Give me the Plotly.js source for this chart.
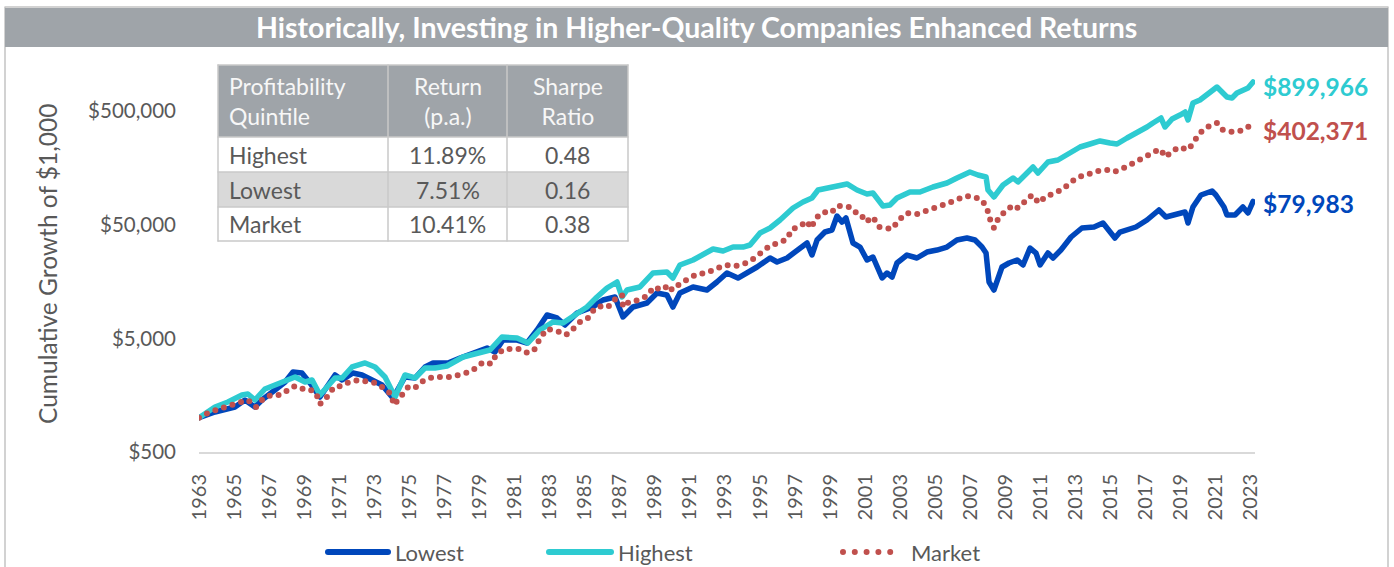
<!DOCTYPE html>
<html>
<head>
<meta charset="utf-8">
<script src="https://cdn.plot.ly/plotly-3.0.1.min.js"></script>
<style>
  html, body { margin: 0; padding: 0; background: #ffffff; }
  #chart { width: 1394px; height: 567px; }
  .scatterlayer .js-line, .shapelayer path { stroke-linecap: round; stroke-linejoin: round; }
</style>
</head>
<body>
<div id="chart"></div>
<script>
// ---------------- DATA ----------------
const chartTitle = 'Historically, Investing in Higher-Quality Companies Enhanced Returns';
const yAxisTitle = 'Cumulative Growth of $1,000';
const seriesNames = ['Lowest', 'Highest', 'Market'];

const tickYears = [1963,1965,1967,1969,1971,1973,1975,1977,1979,1981,1983,1985,1987,1989,1991,1993,1995,1997,1999,2001,2003,2005,2007,2009,2011,2013,2015,2017,2019,2021,2023];
const yTickValues = [500, 5000, 50000, 500000];
const yTickLabels = ['$500', '$5,000', '$50,000', '$500,000'];

const lowestYears = [1963.00,1963.91,1965.05,1965.62,1966.19,1966.59,1967.33,1967.91,1968.36,1968.87,1969.33,1969.90,1970.76,1971.16,1971.78,1972.30,1972.87,1973.44,1974.06,1974.75,1975.32,1975.89,1976.35,1977.20,1977.89,1978.63,1979.43,1979.88,1980.34,1981.14,1981.71,1982.28,1982.85,1983.42,1983.87,1984.56,1985.13,1985.47,1985.76,1986.04,1986.73,1987.18,1987.75,1988.55,1989.12,1989.69,1990.03,1990.43,1991.18,1991.97,1992.54,1993.11,1993.74,1994.26,1994.83,1995.57,1995.97,1996.54,1997.11,1997.68,1997.96,1998.25,1998.70,1999.10,1999.39,1999.67,1999.90,2000.30,2000.70,2001.10,2001.44,2001.96,2002.24,2002.53,2002.81,2003.38,2003.95,2004.52,2005.09,2005.66,2006.23,2006.80,2007.26,2007.66,2007.89,2008.06,2008.34,2008.80,2009.20,2009.66,2010.00,2010.40,2010.74,2010.97,2011.42,2011.71,2012.16,2012.74,2013.36,2014.05,2014.56,2014.90,2015.24,2015.53,2016.44,2017.07,2017.75,2018.15,2018.84,2019.24,2019.41,2019.69,2020.15,2020.78,2021.00,2021.46,2021.63,2022.09,2022.54,2022.83,2023.12];
const lowestValues = [1000,1124,1244,1433,1244,1433,1756,2064,2528,2477,2023,1523,2379,2150,2477,2379,2150,1943,1493,2285,2239,2798,3034,3034,3357,3714,4111,3790,4834,4834,4549,5920,8020,7550,6550,8350,8880,9430,10230,10870,11550,7700,9430,10230,12530,12030,9430,12530,14150,13310,15650,18780,16970,18780,21210,25450,23470,25450,29920,34480,27040,36640,43090,44870,59590,52770,57230,34480,31790,24450,25970,16970,18780,17320,23000,27040,25450,28730,29920,31790,36640,38160,36640,31790,28150,15650,13310,21210,23000,24450,22090,31150,28150,22090,28150,25450,29920,38940,46730,47690,51710,44870,38160,43090,47690,54950,67290,58400,63330,64620,51710,71510,91200,98880,91200,71510,60810,60810,71510,63330,79983];

const highestYears = [1963.00,1963.91,1964.65,1965.45,1965.79,1966.19,1966.76,1967.33,1967.91,1968.48,1969.05,1969.45,1969.90,1970.76,1971.16,1971.73,1972.47,1973.04,1973.61,1974.18,1974.75,1975.32,1975.89,1976.46,1977.14,1978.06,1979.60,1980.28,1981.14,1981.76,1982.45,1983.19,1983.76,1984.56,1985.13,1985.70,1986.27,1986.84,1987.13,1987.41,1988.15,1988.89,1989.69,1990.03,1990.43,1991.18,1991.97,1992.32,1992.89,1993.46,1994.03,1994.43,1995.00,1995.57,1996.14,1996.88,1997.45,1997.96,1998.31,1998.82,1999.39,1999.96,2000.53,2001.10,2001.44,2002.01,2002.41,2002.81,2003.55,2004.12,2004.86,2005.66,2006.23,2006.97,2007.43,2007.89,2008.00,2008.34,2008.86,2009.43,2009.71,2010.22,2010.57,2010.85,2011.42,2011.99,2012.68,2013.25,2013.82,2014.39,2014.96,2015.36,2015.93,2016.50,2017.07,2017.41,2017.87,2018.10,2018.50,2018.95,2019.24,2019.41,2019.69,2020.09,2020.49,2021.06,2021.63,2021.92,2022.20,2022.54,2022.83,2023.12];
const highestValues = [1000,1244,1376,1586,1619,1433,1792,1943,2150,2285,2064,2150,1586,2239,2239,2798,3034,2798,2285,1523,2379,2239,2742,2742,2855,3425,3948,5137,5034,4549,5920,6960,6820,8350,9430,11550,13860,15650,11550,13310,14150,18780,19170,16970,22090,24450,28150,30530,29320,31790,31790,33110,42230,46730,54950,70080,79130,85820,100900,105100,111700,114000,100900,93060,94960,72980,74470,85820,96900,96900,107200,116300,128700,145300,136800,131300,100900,87580,111700,128700,118700,145300,160800,142400,177900,185300,213500,241100,256200,272300,261500,256200,289300,320200,361500,392000,433800,361500,425100,460900,489800,416600,587900,624800,691300,812900,663800,650500,719900,764900,796600,899966];

const marketYears = [1963.00,1963.51,1964.14,1964.71,1965.22,1965.79,1966.25,1966.65,1967.11,1967.62,1968.02,1968.48,1968.93,1969.27,1969.67,1969.90,1970.30,1970.70,1971.16,1971.56,1972.13,1972.64,1973.04,1973.44,1973.95,1974.12,1974.29,1974.58,1974.98,1975.38,1975.78,1976.35,1976.86,1977.37,1978.00,1978.57,1979.03,1979.43,1979.65,1979.98,1980.45,1980.97,1981.31,1981.76,1982.16,1982.45,1982.85,1983.42,1983.93,1984.33,1984.79,1985.19,1985.59,1985.99,1986.33,1986.67,1987.13,1987.18,1987.53,1988.10,1988.55,1988.95,1989.41,1989.81,1989.98,1990.49,1990.95,1991.40,1991.92,1992.43,1993.00,1993.57,1994.08,1994.60,1995.11,1995.62,1996.08,1996.54,1996.82,1997.22,1997.68,1997.91,1998.19,1998.59,1999.05,1999.39,1999.73,2000.07,2000.36,2000.70,2001.04,2001.44,2001.78,2002.07,2002.53,2002.92,2003.38,2003.95,2004.52,2005.03,2005.60,2006.18,2006.75,2007.20,2007.66,2007.94,2008.11,2008.34,2008.63,2009.03,2009.43,2009.71,2010.05,2010.51,2010.91,2011.31,2011.71,2012.28,2012.74,2013.19,2013.76,2014.28,2014.79,2015.19,2015.64,2016.16,2016.78,2017.30,2017.81,2018.15,2018.50,2018.95,2019.35,2019.46,2019.81,2020.09,2020.61,2021.06,2021.40,2021.69,2021.97,2022.37,2022.83,2023.12];
const marketValues = [1000,1102,1195,1295,1349,1433,1244,1463,1586,1586,1756,1904,1792,1792,1652,1322,1523,1866,1904,2064,2150,2107,2023,1866,1619,1295,1405,1619,1904,1866,2107,2285,2285,2285,2427,2580,2973,3095,2973,3640,4029,4029,4029,3714,4029,5034,6040,5800,5350,6040,7100,7550,9240,9630,9430,10870,12030,9430,10440,10870,11790,14150,13310,14730,13310,15340,16970,18400,18780,20360,22090,21640,22540,24950,28730,33110,34480,37390,45790,47690,53850,46730,57230,64620,63330,72980,72980,71510,64620,63330,52770,58400,47690,46730,45790,54950,63330,62050,65940,70080,75990,82400,89370,87580,82400,70080,56080,46730,58400,65940,74470,70080,79130,91200,77550,89370,93060,103000,118700,131300,139500,148300,151300,145300,154400,170800,189100,213500,231500,196900,222300,241100,226900,231500,283500,320200,368900,392000,340200,333400,326800,333400,361500,402371];

const tableHeader = ['Profitability<br>Quintile', 'Return<br>(p.a.)', 'Sharpe<br>Ratio'];
const tableRowNames = ['Highest', 'Lowest', 'Market'];
const tableReturns = ['11.89%', '7.51%', '10.41%'];
const tableSharpe = ['0.48', '0.16', '0.38'];

// ---------------- STYLE / GEOMETRY ----------------
const FONT = 'Lato, "Noto Sans", sans-serif';
const TXT = '#595959';
const GREY = '#9fa4a9';
const colors = { Lowest: '#0047bb', Highest: '#2ecbd1', Market: '#c0504d' };

const L = 199, R = 1255, T = 60, B = 452;
const W = R - L, H = B - T;
const px = x => (x - L) / W;   // pixel -> paper x
const py = y => (B - y) / H;   // pixel -> paper y

const traces = [
  { type: 'scatter', mode: 'lines', name: seriesNames[0], x: lowestYears, y: lowestValues,
    line: { color: colors.Lowest, width: 5.5 }, hoverinfo: 'skip' },
  { type: 'scatter', mode: 'lines', name: seriesNames[1], x: highestYears, y: highestValues,
    line: { color: colors.Highest, width: 5.5 }, hoverinfo: 'skip' },
  { type: 'scatter', mode: 'lines', name: seriesNames[2], x: marketYears, y: marketValues,
    line: { color: colors.Market, width: 6, dash: '0px,9px' }, hoverinfo: 'skip' }
];

const shapes = [];
const annotations = [];

// outer frame + title bar
shapes.push({ type: 'rect', xref: 'paper', yref: 'paper', x0: px(5), x1: px(1388), y0: py(600), y1: py(7),
  line: { color: '#c4c4c4', width: 1.5 }, fillcolor: 'rgba(0,0,0,0)', layer: 'below' });
shapes.push({ type: 'rect', xref: 'paper', yref: 'paper', x0: px(5), x1: px(1388), y0: py(47), y1: py(8),
  line: { width: 0 }, fillcolor: GREY, layer: 'below' });
annotations.push({ xref: 'paper', yref: 'paper', x: px(696), y: py(27), xanchor: 'center', yanchor: 'middle',
  text: '<b>' + chartTitle + '</b>', showarrow: false, font: { family: FONT, size: 28.5, color: '#ffffff' } });

// y-axis title
annotations.push({ xref: 'paper', yref: 'paper', x: px(47), y: py(264), xanchor: 'center', yanchor: 'middle',
  text: yAxisTitle, textangle: -90, showarrow: false, font: { family: FONT, size: 24.5, color: TXT } });

// table
const colX = [218, 388, 507, 628];
const rowY = [65, 137, 172, 207, 241];
const rowFill = ['#ffffff', '#d9d9d9', '#ffffff'];
shapes.push({ type: 'rect', xref: 'paper', yref: 'paper', x0: px(colX[0]), x1: px(colX[3]), y0: py(rowY[1]), y1: py(rowY[0]),
  line: { width: 0 }, fillcolor: GREY });
for (let r = 0; r < tableRowNames.length; r++) {
  shapes.push({ type: 'rect', xref: 'paper', yref: 'paper', x0: px(colX[0]), x1: px(colX[3]), y0: py(rowY[r + 2]), y1: py(rowY[r + 1]),
    line: { width: 0 }, fillcolor: rowFill[r] });
}
for (let r = 0; r < rowY.length; r++) {
  shapes.push({ type: 'line', xref: 'paper', yref: 'paper', x0: px(colX[0]), x1: px(colX[3]), y0: py(rowY[r]), y1: py(rowY[r]),
    line: { color: '#c9c9c9', width: 1.5 } });
}
for (let c = 0; c < colX.length; c++) {
  shapes.push({ type: 'line', xref: 'paper', yref: 'paper', x0: px(colX[c]), x1: px(colX[c]), y0: py(rowY[4]), y1: py(rowY[0]),
    line: { color: '#c9c9c9', width: 1.5 } });
}
const TFS = 23;
tableHeader.forEach((h, c) => {
  const left = c === 0;
  annotations.push({ xref: 'paper', yref: 'paper', x: left ? px(colX[0] + 9) : px((colX[c] + colX[c + 1]) / 2),
    y: py((rowY[0] + rowY[1]) / 2), xanchor: left ? 'left' : 'center', yanchor: 'middle', align: left ? 'left' : 'center',
    text: h, showarrow: false, font: { family: FONT, size: TFS, color: '#f7f7f7' } });
});
tableRowNames.forEach((name, r) => {
  const yc = py((rowY[r + 1] + rowY[r + 2]) / 2);
  const cells = [name, tableReturns[r], tableSharpe[r]];
  cells.forEach((t, c) => {
    const left = c === 0;
    annotations.push({ xref: 'paper', yref: 'paper', x: left ? px(colX[0] + 9) : px((colX[c] + colX[c + 1]) / 2),
      y: yc, xanchor: left ? 'left' : 'center', yanchor: 'middle', text: t, showarrow: false,
      font: { family: FONT, size: TFS, color: TXT } });
  });
});

// end-of-line value labels
const endSeries = [
  { name: 'Highest', years: highestYears, values: highestValues, shift: -5 },
  { name: 'Market', years: marketYears, values: marketValues, shift: -9 },
  { name: 'Lowest', years: lowestYears, values: lowestValues, shift: -2 }
];
endSeries.forEach(s => {
  const v = s.values[s.values.length - 1];
  annotations.push({ xref: 'paper', yref: 'y', x: px(1261), y: Math.log10(v), xanchor: 'left', yanchor: 'middle',
    yshift: s.shift, text: '<b>$' + v.toLocaleString('en-US') + '</b>', showarrow: false,
    font: { family: FONT, size: 24.5, color: colors[s.name] } });
});

// custom legend
const legendItems = [
  { name: seriesNames[0], x0: 328, x1: 388, tx: 393, dash: 'solid', width: 6 },
  { name: seriesNames[1], x0: 549, x1: 611, tx: 616, dash: 'solid', width: 6 },
  { name: seriesNames[2], x0: 843, x1: 902, tx: 909, dash: '0px,11.8px', width: 6 }
];
const LEGY = 552;
legendItems.forEach(it => {
  shapes.push({ type: 'line', xref: 'paper', yref: 'paper', x0: px(it.x0), x1: px(it.x1), y0: py(LEGY), y1: py(LEGY),
    line: { color: colors[it.name], width: it.width, dash: it.dash } });
  annotations.push({ xref: 'paper', yref: 'paper', x: px(it.tx), y: py(LEGY), xanchor: 'left', yanchor: 'middle',
    text: it.name, showarrow: false, font: { family: FONT, size: 22, color: TXT } });
});

const layout = {
  width: 1394, height: 567,
  margin: { l: L, r: 1394 - R, t: T, b: 567 - B, pad: 0 },
  paper_bgcolor: '#ffffff', plot_bgcolor: '#ffffff',
  showlegend: false,
  font: { family: FONT, color: TXT },
  xaxis: {
    type: 'linear', range: [1963, 2023.23],
    tickmode: 'array', tickvals: tickYears, ticktext: tickYears.map(String),
    tickangle: -90, tickfont: { family: FONT, size: 20, color: TXT },
    ticks: '', ticklabelstandoff: 12,
    showgrid: false, zeroline: false, showline: true, linecolor: '#d9d9d9', linewidth: 2
  },
  yaxis: {
    type: 'log', range: [Math.log10(500), 6.1476],
    tickmode: 'array', tickvals: yTickValues, ticktext: yTickLabels,
    tickfont: { family: FONT, size: 20.5, color: TXT },
    ticks: '', ticklabelstandoff: 22,
    showgrid: false, zeroline: false, showline: false
  },
  shapes: shapes,
  annotations: annotations
};

Plotly.newPlot('chart', traces, layout, { displayModeBar: false, staticPlot: true });
</script>
</body>
</html>
